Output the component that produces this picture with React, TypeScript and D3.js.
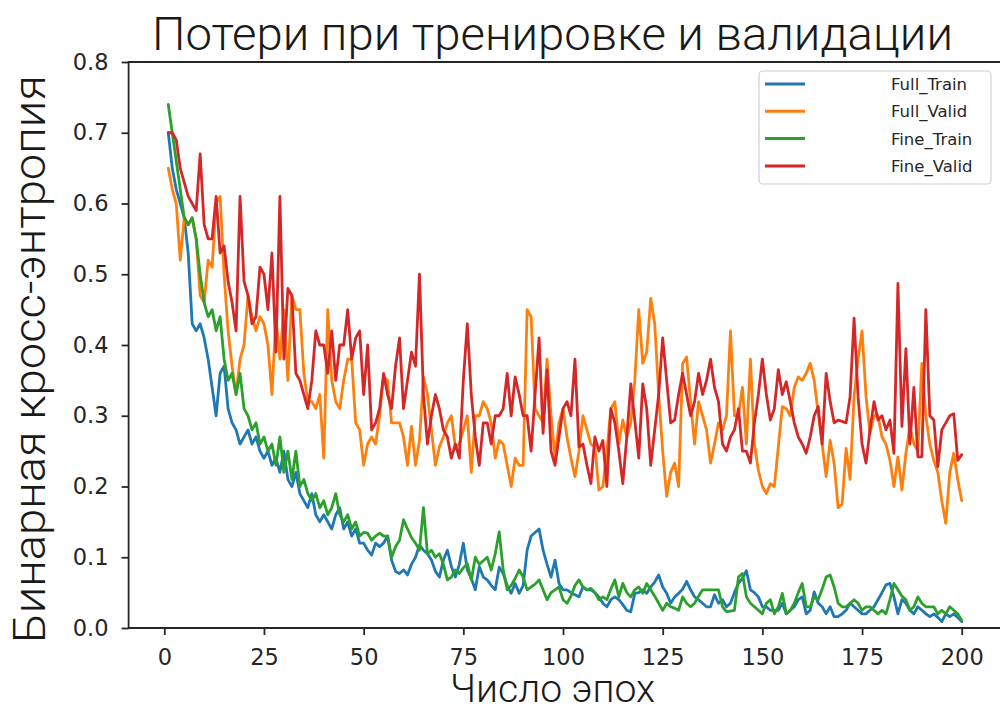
import React, { useEffect, useRef } from 'react'
import * as d3 from 'd3'

const WIDTH = 1000
const HEIGHT = 709

// loss values per epoch (epochs 1..200)
const fullTrain = [
  0.70, 0.65, 0.62, 0.60, 0.58, 0.53, 0.43, 0.42, 0.43, 0.41,
  0.38, 0.34, 0.30, 0.36, 0.37, 0.31, 0.29, 0.28, 0.26, 0.27,
  0.28, 0.26, 0.27, 0.25, 0.24, 0.25, 0.23, 0.24, 0.22, 0.25,
  0.21, 0.20, 0.22, 0.19, 0.18, 0.17, 0.19, 0.16, 0.15, 0.16,
  0.15, 0.14, 0.16, 0.17, 0.14, 0.15, 0.13, 0.14, 0.12, 0.12,
  0.11, 0.103, 0.12, 0.115, 0.12, 0.13, 0.096, 0.08, 0.077, 0.082,
  0.075, 0.09, 0.10, 0.117, 0.11, 0.105, 0.096, 0.08, 0.072, 0.096,
  0.11, 0.087, 0.072, 0.09, 0.12, 0.082, 0.07, 0.054, 0.087, 0.072,
  0.068, 0.06, 0.054, 0.086, 0.077, 0.06, 0.049, 0.063, 0.049, 0.06,
  0.11, 0.13, 0.135, 0.14, 0.11, 0.09, 0.072, 0.096, 0.063, 0.054,
  0.054, 0.05, 0.047, 0.044, 0.058, 0.054, 0.054, 0.05, 0.044, 0.035,
  0.03, 0.04, 0.044, 0.04, 0.033, 0.025, 0.023, 0.049, 0.05, 0.054,
  0.049, 0.058, 0.065, 0.075, 0.058, 0.049, 0.035, 0.044, 0.049, 0.055,
  0.066, 0.054, 0.044, 0.04, 0.035, 0.03, 0.03, 0.047, 0.035, 0.04,
  0.03, 0.035, 0.05, 0.063, 0.07, 0.081, 0.054, 0.05, 0.044, 0.03,
  0.03, 0.025, 0.025, 0.025, 0.035, 0.02, 0.025, 0.03, 0.04, 0.044,
  0.02, 0.025, 0.051, 0.035, 0.03, 0.02, 0.03, 0.016, 0.016, 0.02,
  0.025, 0.035, 0.03, 0.025, 0.02, 0.02, 0.025, 0.03, 0.04, 0.05,
  0.061, 0.063, 0.044, 0.02, 0.04, 0.035, 0.025, 0.02, 0.03, 0.025,
  0.02, 0.016, 0.02, 0.015, 0.009, 0.02, 0.016, 0.02, 0.015, 0.009,
]

const fullValid = [
  0.65, 0.62, 0.60, 0.52, 0.58, 0.57, 0.58, 0.55, 0.47, 0.46,
  0.52, 0.51, 0.60, 0.61, 0.50, 0.42, 0.37, 0.33, 0.38, 0.40,
  0.47, 0.44, 0.42, 0.44, 0.43, 0.40, 0.33, 0.44, 0.38, 0.45,
  0.35, 0.47, 0.45, 0.45, 0.36, 0.32, 0.32, 0.31, 0.33, 0.24,
  0.45, 0.35, 0.32, 0.31, 0.35, 0.38, 0.38, 0.29, 0.28, 0.23,
  0.26, 0.27, 0.26, 0.30, 0.355, 0.35, 0.29, 0.29, 0.29, 0.27,
  0.23, 0.285, 0.23, 0.265, 0.355, 0.33, 0.28, 0.23, 0.256, 0.27,
  0.29, 0.30, 0.256, 0.26, 0.28, 0.30, 0.22, 0.30, 0.30, 0.32,
  0.31, 0.29, 0.24, 0.265, 0.26, 0.23, 0.20, 0.24, 0.23, 0.23,
  0.45, 0.44, 0.31, 0.30, 0.29, 0.38, 0.30, 0.24, 0.29, 0.31,
  0.27, 0.24, 0.214, 0.25, 0.30, 0.28, 0.26, 0.256, 0.195, 0.20,
  0.25, 0.31, 0.32, 0.26, 0.294, 0.27, 0.29, 0.35, 0.45, 0.374,
  0.39, 0.466, 0.43, 0.33, 0.25, 0.186, 0.22, 0.233, 0.20, 0.374,
  0.383, 0.32, 0.26, 0.32, 0.30, 0.28, 0.233, 0.26, 0.29, 0.28,
  0.30, 0.42, 0.30, 0.30, 0.34, 0.26, 0.38, 0.26, 0.223, 0.20,
  0.19, 0.204, 0.20, 0.256, 0.313, 0.31, 0.30, 0.34, 0.355, 0.35,
  0.36, 0.374, 0.35, 0.303, 0.26, 0.214, 0.265, 0.233, 0.17, 0.175,
  0.254, 0.21, 0.327, 0.38, 0.42, 0.327, 0.275, 0.30, 0.30, 0.27,
  0.26, 0.237, 0.20, 0.242, 0.195, 0.247, 0.285, 0.26, 0.25, 0.374,
  0.30, 0.26, 0.237, 0.22, 0.18, 0.148, 0.22, 0.247, 0.21, 0.18,
]

const fineTrain = [
  0.74, 0.70, 0.66, 0.62, 0.58, 0.57, 0.58, 0.55, 0.50, 0.46,
  0.44, 0.45, 0.42, 0.44, 0.38, 0.35, 0.36, 0.33, 0.36, 0.31,
  0.30, 0.28, 0.29, 0.26, 0.27, 0.25, 0.26, 0.23, 0.27, 0.22,
  0.25, 0.21, 0.25, 0.20, 0.21, 0.19, 0.18, 0.19, 0.17, 0.18,
  0.16, 0.17, 0.19, 0.16, 0.15, 0.16, 0.14, 0.15, 0.13, 0.135,
  0.134, 0.124, 0.13, 0.134, 0.13, 0.13, 0.10, 0.115, 0.124, 0.153,
  0.14, 0.128, 0.12, 0.11, 0.17, 0.105, 0.11, 0.10, 0.105, 0.09,
  0.068, 0.072, 0.082, 0.077, 0.085, 0.091, 0.068, 0.10, 0.09, 0.095,
  0.10, 0.082, 0.105, 0.136, 0.082, 0.054, 0.06, 0.07, 0.082, 0.072,
  0.054, 0.058, 0.062, 0.068, 0.054, 0.04, 0.05, 0.054, 0.058, 0.04,
  0.035, 0.045, 0.06, 0.068, 0.058, 0.054, 0.056, 0.05, 0.04, 0.044,
  0.04, 0.055, 0.068, 0.044, 0.063, 0.05, 0.044, 0.054, 0.058, 0.049,
  0.063, 0.054, 0.045, 0.035, 0.025, 0.035, 0.03, 0.028, 0.025, 0.044,
  0.035, 0.03, 0.035, 0.045, 0.054, 0.054, 0.054, 0.054, 0.054, 0.03,
  0.023, 0.024, 0.025, 0.072, 0.077, 0.044, 0.035, 0.03, 0.025, 0.02,
  0.035, 0.04, 0.02, 0.03, 0.049, 0.02, 0.025, 0.035, 0.05, 0.063,
  0.03, 0.03, 0.044, 0.04, 0.055, 0.072, 0.075, 0.058, 0.035, 0.03,
  0.03, 0.035, 0.04, 0.035, 0.025, 0.03, 0.03, 0.025, 0.02, 0.025,
  0.02, 0.04, 0.063, 0.054, 0.045, 0.04, 0.025, 0.03, 0.044, 0.035,
  0.03, 0.03, 0.03, 0.02, 0.025, 0.02, 0.03, 0.025, 0.02, 0.011,
]

const fineValid = [
  0.70, 0.70, 0.69, 0.65, 0.63, 0.61, 0.60, 0.59, 0.67, 0.57,
  0.55, 0.55, 0.61, 0.53, 0.54, 0.49, 0.46, 0.42, 0.61, 0.49,
  0.47, 0.43, 0.44, 0.51, 0.50, 0.45, 0.53, 0.39, 0.61, 0.38,
  0.48, 0.47, 0.36, 0.35, 0.33, 0.31, 0.35, 0.42, 0.40, 0.40,
  0.36, 0.42, 0.35, 0.40, 0.40, 0.45, 0.38, 0.41, 0.42, 0.33,
  0.40, 0.28, 0.29, 0.31, 0.36, 0.33, 0.31, 0.37, 0.41, 0.31,
  0.35, 0.39, 0.37, 0.50, 0.33, 0.26, 0.30, 0.33, 0.31, 0.28,
  0.27, 0.24, 0.26, 0.24, 0.35, 0.43, 0.33, 0.27, 0.23, 0.29,
  0.29, 0.26, 0.30, 0.30, 0.31, 0.36, 0.30, 0.355, 0.33, 0.30,
  0.30, 0.25, 0.33, 0.41, 0.275, 0.365, 0.25, 0.23, 0.27, 0.31,
  0.32, 0.30, 0.38, 0.256, 0.26, 0.23, 0.204, 0.27, 0.25, 0.265,
  0.20, 0.31, 0.29, 0.25, 0.204, 0.27, 0.345, 0.294, 0.24, 0.345,
  0.31, 0.23, 0.28, 0.33, 0.41, 0.35, 0.29, 0.294, 0.33, 0.36,
  0.33, 0.30, 0.32, 0.36, 0.33, 0.35, 0.38, 0.34, 0.32, 0.26,
  0.25, 0.27, 0.28, 0.31, 0.25, 0.25, 0.233, 0.29, 0.33, 0.38,
  0.33, 0.294, 0.31, 0.365, 0.33, 0.348, 0.32, 0.29, 0.27, 0.26,
  0.247, 0.27, 0.30, 0.313, 0.26, 0.36, 0.32, 0.29, 0.294, 0.292,
  0.29, 0.327, 0.438, 0.327, 0.26, 0.233, 0.28, 0.32, 0.294, 0.30,
  0.28, 0.294, 0.247, 0.487, 0.285, 0.395, 0.26, 0.34, 0.242, 0.242,
  0.45, 0.30, 0.294, 0.228, 0.28, 0.29, 0.30, 0.303, 0.237, 0.245,
]

const seriesNames = ['Full_Train', 'Full_Valid', 'Fine_Train', 'Fine_Valid']
const seriesValues = [fullTrain, fullValid, fineTrain, fineValid]
const colors = ['#1f77b4', '#ff7f0e', '#2ca02c', '#d62728']

const xTicks = [0, 25, 50, 75, 100, 125, 150, 175, 200]
const yTicks = [0, 0.1, 0.2, 0.3, 0.4, 0.5, 0.6, 0.7, 0.8]

const TITLE = 'Потери при тренировке и валидации'
const X_LABEL = 'Число эпох'
const Y_LABEL = 'Бинарная кросс-энтропия'

const LEFT = 128.6
const RIGHT = 1001.4
const TOP = 62
const BOTTOM = 628

export default function App() {
  const ref = useRef<SVGSVGElement>(null)

  useEffect(() => {
    const svg = d3.select(ref.current)
    svg.selectAll('*').remove()

    const x = d3.scaleLinear().domain([-8.95, 209.95]).range([LEFT, RIGHT])
    const y = d3.scaleLinear().domain([0, 0.8]).range([BOTTOM, TOP])

    svg.append('rect')
      .attr('width', WIDTH)
      .attr('height', HEIGHT)
      .attr('fill', '#fff')

    const line = d3.line<number>()
      .x((d, i) => x(i + 1))
      .y((d) => y(d))

    const lines = svg.append('g').attr('class', 'lines')
    seriesValues.forEach((vals, i) => {
      lines.append('path')
        .datum(vals)
        .attr('d', line)
        .attr('fill', 'none')
        .attr('stroke', colors[i])
        .attr('stroke-width', 2.8)
        .attr('stroke-linejoin', 'round')
        .attr('stroke-linecap', 'round')
    })

    // axes
    const yAxis = svg.append('g')
      .attr('transform', `translate(${LEFT}, 0)`)
      .call(d3.axisLeft(y).tickValues(yTicks).tickFormat(d3.format('.1f')).tickSize(7).tickPadding(13))
    const xAxis = svg.append('g')
      .attr('transform', `translate(0, ${BOTTOM})`)
      .call(d3.axisBottom(x).tickValues(xTicks).tickFormat(d3.format('d')).tickSize(7).tickPadding(14))

    ;[xAxis, yAxis].forEach((ax) => {
      ax.select('.domain').remove()
      ax.selectAll('line').attr('stroke', '#262626').attr('stroke-width', 1.8)
      ax.selectAll('text')
        .attr('fill', '#262626')
        .attr('font-family', 'DejaVu Sans')
        .attr('font-size', 22.5)
    })

    // spines
    const spines = svg.append('g')
      .attr('stroke', '#262626')
      .attr('stroke-width', 1.8)
      .attr('fill', 'none')
    spines.append('path').attr('d', `M${LEFT},${TOP}V${BOTTOM}H${RIGHT}V${TOP}Z`)

    // title and labels
    svg.append('text')
      .attr('x', 552.5)
      .attr('y', 50)
      .attr('text-anchor', 'middle')
      .attr('font-family', 'Roboto')
      .attr('font-weight', 300)
      .attr('font-size', 46)
      .attr('fill', '#1a1a1a')
      .attr('textLength', 801)
      .attr('lengthAdjust', 'spacingAndGlyphs')
      .text(TITLE)

    svg.append('text')
      .attr('x', 552.5)
      .attr('y', 702)
      .attr('text-anchor', 'middle')
      .attr('font-family', 'Roboto')
      .attr('font-weight', 300)
      .attr('font-size', 38)
      .attr('fill', '#1a1a1a')
      .attr('textLength', 205)
      .attr('lengthAdjust', 'spacingAndGlyphs')
      .text(X_LABEL)

    svg.append('text')
      .attr('transform', `translate(45, 359) rotate(-90)`)
      .attr('text-anchor', 'middle')
      .attr('font-family', 'Roboto')
      .attr('font-weight', 300)
      .attr('font-size', 44)
      .attr('fill', '#1a1a1a')
      .attr('textLength', 568)
      .attr('lengthAdjust', 'spacingAndGlyphs')
      .text(Y_LABEL)

    // legend
    const legend = svg.append('g').attr('class', 'legend')
    legend.append('rect')
      .attr('x', 759)
      .attr('y', 71)
      .attr('width', 232)
      .attr('height', 113)
      .attr('rx', 4)
      .attr('fill', '#fff')
      .attr('fill-opacity', 0.85)
      .attr('stroke', '#d0d0d0')
      .attr('stroke-width', 1.2)

    const rows = legend.selectAll('g.row')
      .data(seriesNames)
      .enter()
      .append('g')
      .attr('class', 'row')
      .attr('transform', (d, i) => `translate(0, ${84 + i * 27.3})`)

    rows.append('line')
      .attr('x1', 765)
      .attr('x2', 805)
      .attr('stroke', (d, i) => colors[i])
      .attr('stroke-width', 3)

    rows.append('text')
      .attr('x', 891)
      .attr('dy', '0.36em')
      .attr('font-family', 'DejaVu Sans')
      .attr('font-size', 16.5)
      .attr('fill', '#262626')
      .text((d) => d)
  }, [])

  return (
    <svg
      ref={ref}
      width={WIDTH}
      height={HEIGHT}
      style={{ position: 'absolute', left: 0, top: 0, display: 'block' }}
    />
  )
}
